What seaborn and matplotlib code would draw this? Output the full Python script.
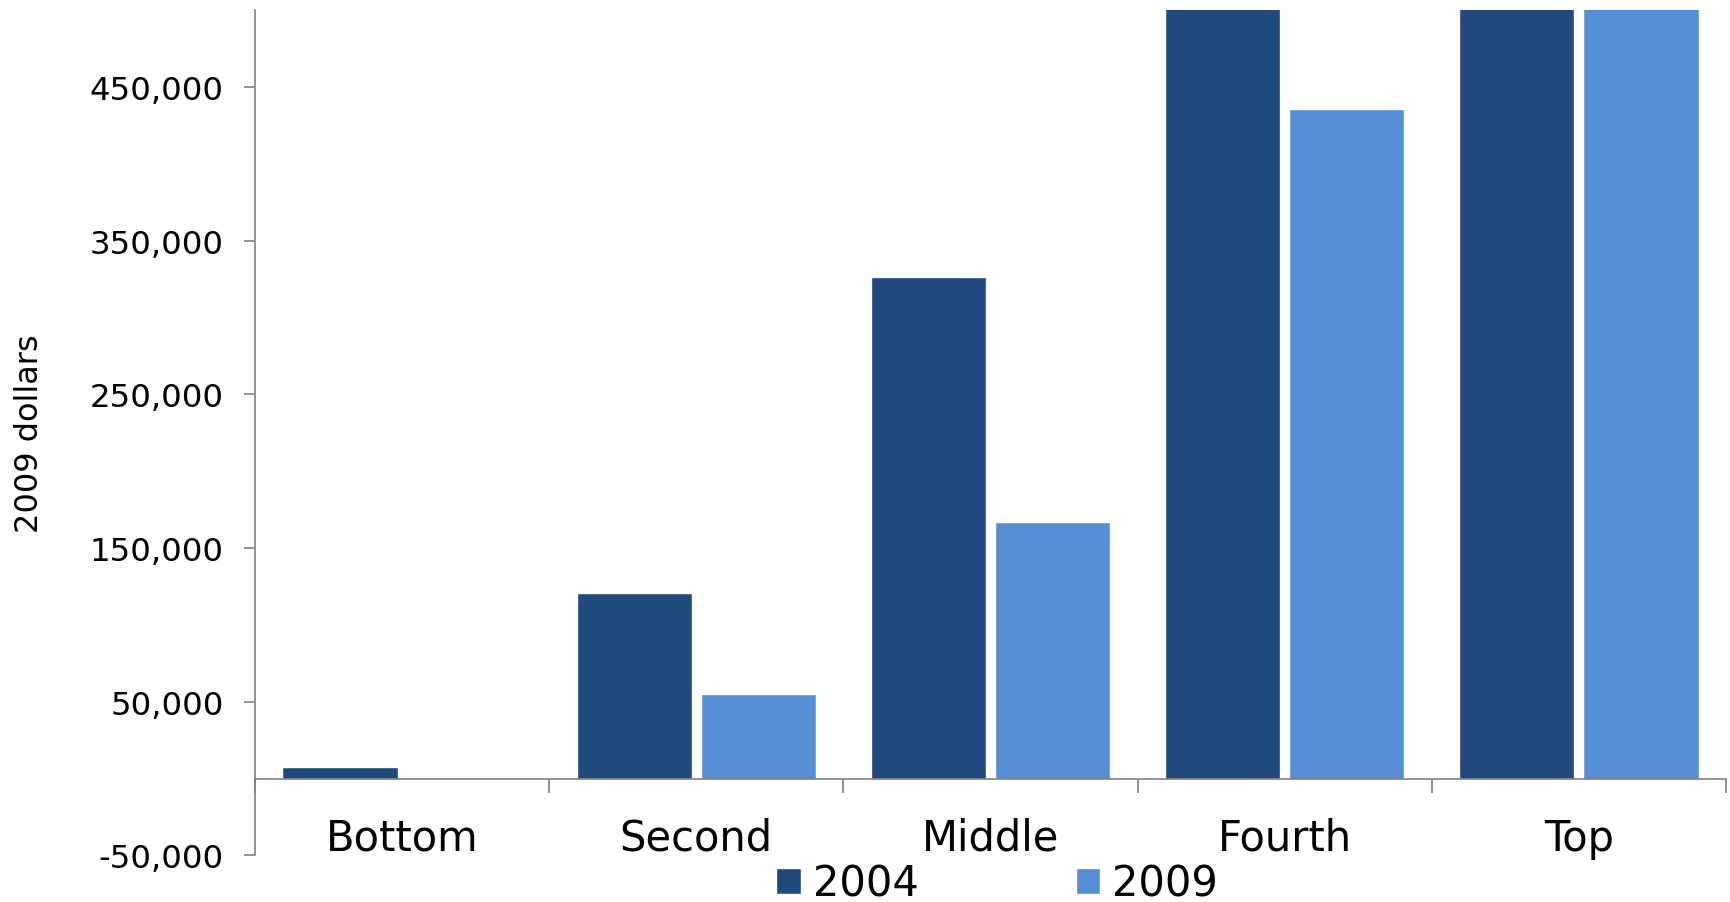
import numpy as np
import pandas as pd
import matplotlib
matplotlib.use("Agg")
import matplotlib.pyplot as plt
import seaborn as sns
from matplotlib.ticker import FuncFormatter

# data (bars above 500,000 are cut off by the axis)
quintiles = ["Bottom", "Second", "Middle", "Fourth", "Top"]
values_2004 = [7500, 120600, 326600, 560000, 1500000]
values_2009 = [0, 55300, 166700, 435500, 1300000]
years = ["2004", "2009"]
colors = ["#204A7D", "#558ED5"]
y_ticks = [-50000, 50000, 150000, 250000, 350000, 450000]

df = pd.DataFrame({
    "quintile": quintiles * 2,
    "value": values_2004 + values_2009,
    "year": [years[0]] * len(quintiles) + [years[1]] * len(quintiles),
})

sns.set_style("white")
plt.rcParams["font.family"] = ["DejaVu Sans"]
plt.rcParams["text.color"] = "black"
plt.rcParams["axes.labelcolor"] = "black"
plt.rcParams["xtick.labelcolor"] = "black"
plt.rcParams["ytick.labelcolor"] = "black"

fig = plt.figure(figsize=(17.31, 9.03), dpi=100)
ax = fig.add_axes([0.1473, 0.0516, 0.8498, 0.9359])

sns.barplot(data=df, x="quintile", y="value", hue="year", order=quintiles,
            hue_order=years, palette=colors, width=0.844, gap=0.073,
            saturation=1, ax=ax)

handles, labels = ax.get_legend_handles_labels()
ax.get_legend().remove()

ax.set_ylim(-50000, 500000)
ax.set_xlim(-0.5, 4.5)
ax.set_yticks(y_ticks)
ax.yaxis.set_major_formatter(FuncFormatter(lambda v, p: f"{int(v):,}"))
ax.set_xticks(range(len(quintiles)))
ax.set_xticklabels(quintiles)
ax.set_xticks(np.arange(-0.5, 5, 1), minor=True)

ax.set_xlabel("")
ax.set_ylabel("2009 dollars", fontsize=23, color="black")
ax.yaxis.set_label_coords(-0.143, 0.5)

for side in ["top", "right"]:
    ax.spines[side].set_visible(False)
ax.spines["bottom"].set_position(("data", 0))
for side in ["left", "bottom"]:
    ax.spines[side].set_color("#808080")
    ax.spines[side].set_linewidth(1.2)

ax.tick_params(axis="y", which="major", direction="out", length=7.7, width=1.2,
               color="#808080", pad=15, labelsize=23.3, left=True,
               labelcolor="black")
ax.tick_params(axis="x", which="major", length=0, pad=27.5, labelsize=30,
               bottom=True, labelcolor="black")
ax.tick_params(axis="x", which="minor", direction="out", length=10, width=1.2,
               color="#808080", bottom=True)

leg = fig.legend(handles, labels, loc="center", bbox_to_anchor=(0.576, 0.02),
                 ncol=2, frameon=False, fontsize=30, handlelength=0.58,
                 handleheight=0.58, handletextpad=0.29, columnspacing=3.77,
                 borderpad=0, borderaxespad=0)
for t in leg.get_texts():
    t.set_color("black")

fig.savefig("out.png", dpi=100)
